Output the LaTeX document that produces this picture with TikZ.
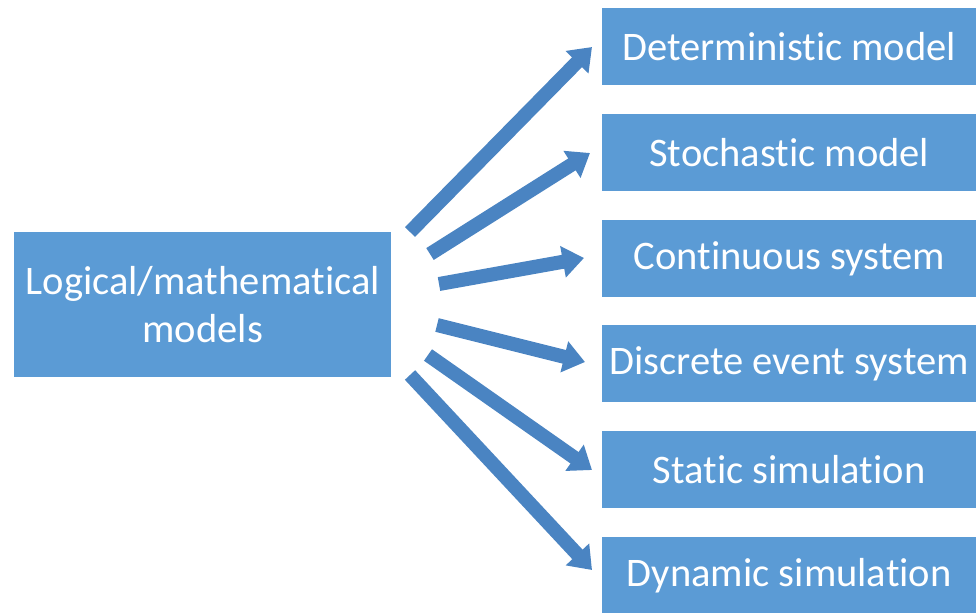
\documentclass[tikz,border=0pt]{standalone}
\usepackage{fontspec}
\setmainfont[Ligatures=NoCommon]{Carlito}
\usetikzlibrary{arrows.meta}
\definecolor{boxblue}{HTML}{5B9BD5}
\definecolor{arrowblue}{HTML}{4A84C2}
\begin{document}
\begin{tikzpicture}[x=0.75pt,y=-0.75pt,
  box/.style={fill=boxblue, draw=none, text=white, inner sep=0pt,
    font=\fontsize{30.4}{36}\selectfont, align=center},
  rbox/.style={box, minimum width=374*0.75pt, minimum height=77*0.75pt, anchor=north west},
  fatarrow/.style={draw=arrowblue, line width=10.5pt,
    -{Triangle[width=23pt,length=16pt]}}]
\useasboundingbox (0,0) rectangle (976,612);
\fill[white] (0,0) rectangle (976,612);

% source box
\node[box, minimum width=377*0.75pt, minimum height=145*0.75pt, anchor=north west]
  (src) at (14,232) {Logical/mathematical\\models};

% target boxes
\node[rbox] (det)  at (602,8)   {Deterministic model};
\node[rbox] (sto)  at (602,114) {Stochastic model};
\node[rbox] (con)  at (602,220) {Continuous system};
\node[rbox] (dis)  at (602,325) {Discrete event system};
\node[rbox] (sta)  at (602,431) {Static simulation};
\node[rbox] (dyn)  at (602,537) {Dynamic simulation};

% arrow tails and tips
\coordinate (t1) at (410,232); \coordinate (h1) at (592,47);
\coordinate (t2) at (430,254); \coordinate (h2) at (590,153);
\coordinate (t3) at (439,284); \coordinate (h3) at (584,258);
\coordinate (t4) at (437,325); \coordinate (h4) at (585,362);
\coordinate (t5) at (428,355); \coordinate (h5) at (592,470);
\coordinate (t6) at (410,375); \coordinate (h6) at (592,570);

\draw[fatarrow] (t1) -- (h1);
\draw[fatarrow] (t2) -- (h2);
\draw[fatarrow] (t3) -- (h3);
\draw[fatarrow] (t4) -- (h4);
\draw[fatarrow] (t5) -- (h5);
\draw[fatarrow] (t6) -- (h6);
\end{tikzpicture}
\end{document}
